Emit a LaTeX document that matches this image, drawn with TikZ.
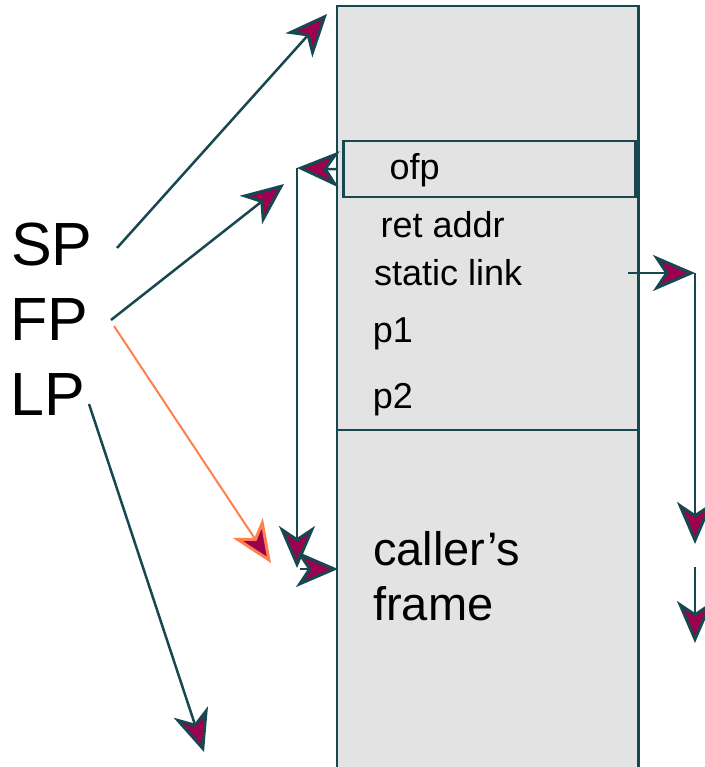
\documentclass[tikz,border=0pt]{standalone}
\usepackage{fontspec}
\setmainfont{Liberation Sans}
\usetikzlibrary{arrows.meta}
\definecolor{lnc}{RGB}{23,72,80}
\definecolor{hdc}{RGB}{158,0,80}
\definecolor{orc}{RGB}{255,127,80}
\definecolor{boxc}{RGB}{227,227,227}
\tikzset{
  conn/.style={draw=lnc, line width=2.5pt, -{Stealth[length=42pt,width=36pt,inset=12pt,fill=hdc,line width=3pt]}},
  oconn/.style={conn, draw=orc, line width=2pt},
  lbl/.style={anchor=base west, inner sep=0pt, font=\fontsize{36}{40}\selectfont},
  big/.style={anchor=base west, inner sep=0pt, font=\fontsize{47}{55}\selectfont, align=left},
  reg/.style={anchor=base west, inner sep=0pt, font=\fontsize{61}{61}\selectfont},
  frameline/.style={draw=lnc, line width=2.5pt},
}
\begin{document}
\begin{tikzpicture}[x=1pt,y=-1pt]
\useasboundingbox (0,0) rectangle (704,767);
% stack column
\node[fill=boxc, draw=none, minimum width=301pt, minimum height=761pt, inner sep=0pt, anchor=north west] (stack) at (337,6) {};
\draw[frameline] (stack.south west) -- (stack.north west) -- (stack.north east) -- (stack.south east);
\coordinate (divL) at (337,430);
\coordinate (divR) at (638,430);
\draw[frameline] (divL) -- (divR);
\node[frameline, minimum width=292pt, minimum height=56pt, inner sep=0pt, anchor=north west] (ofpbox) at (342,140) {};
% texts
\node[lbl] (ofp) at (389.5,180) {ofp};
\node[lbl] (ret) at (380.5,237) {ret addr};
\node[lbl] (stat) at (374,285) {static link};
\node[lbl] (p1) at (372.6,342) {p1};
\node[lbl] (p2) at (372.6,408) {p2};
\node[big] (caller) at (373,620) {caller’s\\frame};
\node[reg] (sp) at (11,265) {SP};
\node[reg] (fp) at (10,340) {FP};
\node[reg] (lp) at (10,415) {LP};
% connector ends
\coordinate (spT) at (117,248);
\coordinate (spH) at (327,14);
\coordinate (fpT) at (111,320);
\coordinate (fpH) at (284,184);
\coordinate (foT) at (114,326);
\coordinate (foH) at (271,563);
\coordinate (lpT) at (89,404);
\coordinate (lpH) at (204,752);
\coordinate (ofpJ) at (297,168);
\coordinate (ofpD) at (297,568);
\coordinate (cfS) at (300,569);
\coordinate (cfE) at (338,569);
\coordinate (slS) at (628,273);
\coordinate (slJ) at (695,273);
\coordinate (slD) at (695,544);
\coordinate (sl2S) at (695,567);
\coordinate (sl2E) at (695,643);
% connectors
\draw[conn] (spT) -- (spH);
\draw[conn] (fpT) -- (fpH);
\draw[oconn] (foT) -- (foH);
\draw[conn] (lpT) -- (lpH);
\draw[conn] (stack.west |- ofpbox.west) -- (ofpJ);
\draw[conn] (ofpJ) -- (ofpD);
\draw[conn] (cfS) -- (cfE);
\draw[conn] (slS) -- (slJ);
\draw[conn] (slJ) -- (slD);
\draw[conn] (sl2S) -- (sl2E);
\end{tikzpicture}
\end{document}
